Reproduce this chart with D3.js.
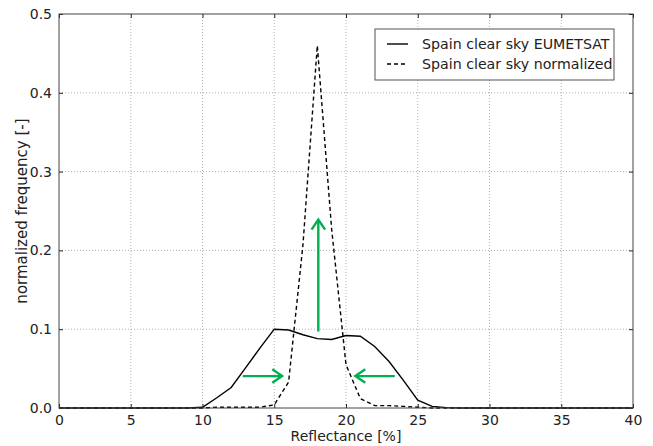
<!DOCTYPE html>
<html>
<head>
<meta charset="utf-8">
<script src="https://cdn.jsdelivr.net/npm/d3@7"></script>
<style>
  body{margin:0;background:#fff;}
  text{font-family:"DejaVu Sans",sans-serif;fill:#222;}
</style>
</head>
<body>
<div id="chart"></div>
<script>
// reflectance bins [%]
const reflectance = d3.range(0, 41);
const eumetsat = [0,0,0,0,0,0,0,0,0,0,
  0.001,0.013,0.026,0.051,0.076,0.100,0.099,0.093,0.088,0.087,
  0.092,0.091,0.078,0.059,0.035,0.010,0.002,0.0005,0,0,
  0,0,0,0,0,0,0,0,0,0,0];
const normalized = [0,0,0,0,0,0,0,0,0,0,
  0,0.001,0.001,0.001,0.001,0.004,0.033,0.207,0.460,0.227,
  0.055,0.012,0.003,0.003,0.002,0.001,0,0,0,0,
  0,0,0,0,0,0,0,0,0,0,0];
const xTicks = [0,5,10,15,20,25,30,35,40];
const yTicks = [0,0.1,0.2,0.3,0.4,0.5];
const seriesNames = ['Spain clear sky EUMETSAT','Spain clear sky normalized'];
// green arrows: [x1,y1,x2,y2] in data units
const arrows = [[12.8,0.0405,15.55,0.0405],[23.4,0.0405,20.65,0.0405],[18.07,0.097,18.07,0.239]];

const W=653,H=446;
const m={t:14,r:20,b:38,l:59};
const iw=W-m.l-m.r, ih=H-m.t-m.b;
const svg=d3.select('#chart').append('svg').attr('width',W).attr('height',H);
const g=svg.append('g').attr('transform',`translate(${m.l},${m.t})`);
const x=d3.scaleLinear().domain([0,40]).range([0,iw]);
const y=d3.scaleLinear().domain([0,0.5]).range([ih,0]);

// grid
g.append('g').selectAll('line').data(xTicks.slice(1,-1)).join('line')
  .attr('x1',d=>x(d)).attr('x2',d=>x(d)).attr('y1',0).attr('y2',ih)
  .attr('stroke','#b0b0b0').attr('stroke-width',1).attr('stroke-dasharray','1,2');
g.append('g').selectAll('line').data(yTicks.slice(1,-1)).join('line')
  .attr('y1',d=>y(d)).attr('y2',d=>y(d)).attr('x1',0).attr('x2',iw)
  .attr('stroke','#b0b0b0').attr('stroke-width',1).attr('stroke-dasharray','1,2');

// curves
const line=d3.line().x((d,i)=>x(reflectance[i])).y(d=>y(d));
g.append('path').attr('d',line(eumetsat)).attr('fill','none').attr('stroke','#000').attr('stroke-width',1.4);
g.append('path').attr('d',line(normalized)).attr('fill','none').attr('stroke','#000').attr('stroke-width',1.4).attr('stroke-dasharray','4,3');

// arrows
const green='#00b050';
arrows.forEach(a=>{
  const x1=x(a[0]),y1=y(a[1]),x2=x(a[2]),y2=y(a[3]);
  const ang=Math.atan2(y2-y1,x2-x1), L=12, sp=0.6;
  g.append('line').attr('x1',x1).attr('y1',y1).attr('x2',x2-Math.cos(ang)*1).attr('y2',y2-Math.sin(ang)*1)
    .attr('stroke',green).attr('stroke-width',2.4);
  const p=[[x2-L*Math.cos(ang-sp),y2-L*Math.sin(ang-sp)],[x2,y2],[x2-L*Math.cos(ang+sp),y2-L*Math.sin(ang+sp)]];
  g.append('path').attr('d',d3.line()(p)).attr('fill','none').attr('stroke',green).attr('stroke-width',2.4);
});

// axes (ticks inward on all four sides)
const ax=(gen,tr)=>{
  const s=g.append('g').attr('transform',tr).call(gen);
  s.select('.domain').remove();
  s.selectAll('line').attr('stroke','#222');
  s.selectAll('text').style('font-size','14px').attr('fill','#222');
  return s;
};
ax(d3.axisBottom(x).tickValues(xTicks).tickSizeInner(-4).tickPadding(7).tickFormat(d3.format('d')),`translate(0,${ih})`);
ax(d3.axisTop(x).tickValues(xTicks).tickSizeInner(-4).tickFormat(''),'translate(0,0)');
ax(d3.axisLeft(y).tickValues(yTicks).tickSizeInner(-4).tickPadding(7).tickFormat(d3.format('.1f')),'translate(0,0)');
ax(d3.axisRight(y).tickValues(yTicks).tickSizeInner(-4).tickFormat(''),`translate(${iw},0)`);
g.append('rect').attr('width',iw).attr('height',ih).attr('fill','none').attr('stroke','#444').attr('stroke-width',1);

// labels
svg.append('text').attr('x',m.l+iw/2).attr('y',H-5).attr('text-anchor','middle').style('font-size','14px').text('Reflectance [%]');
svg.append('text').attr('transform',`translate(27,${m.t+ih/2}) rotate(-90)`).attr('text-anchor','middle').style('font-size','15px').text('normalized frequency [-]');

// legend
const lg=svg.append('g').attr('transform','translate(375,29)');
lg.append('rect').attr('width',239).attr('height',51).attr('fill','#fff').attr('stroke','#555');
seriesNames.forEach((n,i)=>{
  const yy=15+i*20;
  lg.append('line').attr('x1',12).attr('x2',33).attr('y1',yy).attr('y2',yy).attr('stroke','#000').attr('stroke-width',1.4)
    .attr('stroke-dasharray',i?'4,3':null);
  lg.append('text').attr('x',47).attr('y',yy+5).style('font-size','14.2px').text(n);
});
</script>
</body>
</html>
